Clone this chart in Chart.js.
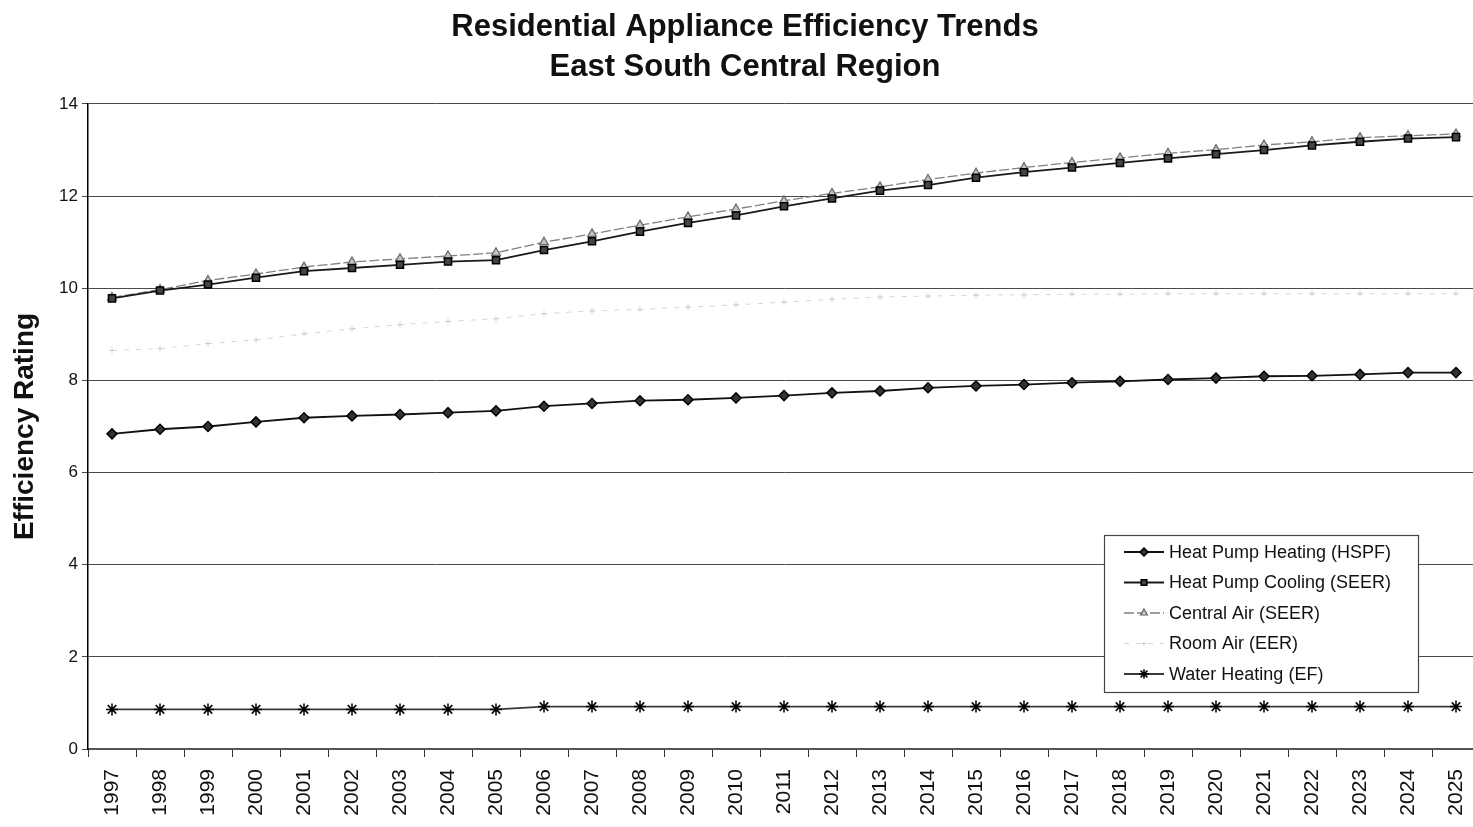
<!DOCTYPE html>
<html>
<head>
<meta charset="utf-8">
<title>Residential Appliance Efficiency Trends</title>
<script src="https://cdn.jsdelivr.net/npm/chart.js@4/dist/chart.umd.min.js"></script>
<style>
  html, body { margin: 0; padding: 0; background: #fff; overflow: hidden; }
  #wrap { width: 1490px; height: 827px; }
</style>
</head>
<body>
<div id="wrap"><canvas id="chart" width="1490" height="827"></canvas></div>
<script>
// Years on the category axis
const years = ['1997','1998','1999','2000','2001','2002','2003','2004','2005','2006',
  '2007','2008','2009','2010','2011','2012','2013','2014','2015','2016',
  '2017','2018','2019','2020','2021','2022','2023','2024','2025'];

// Efficiency ratings per appliance type
const heatPumpHeating = [6.84, 6.94, 7.00, 7.10, 7.19, 7.23, 7.26, 7.30, 7.34, 7.44,
  7.50, 7.56, 7.58, 7.62, 7.67, 7.73, 7.77, 7.84, 7.88, 7.91,
  7.95, 7.98, 8.02, 8.05, 8.09, 8.10, 8.13, 8.17, 8.17];
const heatPumpCooling = [9.78, 9.95, 10.08, 10.23, 10.37, 10.44, 10.51, 10.58, 10.61, 10.83,
  11.02, 11.23, 11.42, 11.58, 11.78, 11.95, 12.12, 12.24, 12.40, 12.52,
  12.62, 12.72, 12.82, 12.91, 13.00, 13.10, 13.18, 13.25, 13.28];
const centralAir = [9.80, 9.97, 10.17, 10.31, 10.46, 10.57, 10.64, 10.70, 10.77, 11.00,
  11.18, 11.37, 11.55, 11.72, 11.90, 12.06, 12.20, 12.36, 12.50, 12.62,
  12.73, 12.83, 12.93, 13.01, 13.11, 13.18, 13.27, 13.31, 13.35];
const roomAir = [8.65, 8.69, 8.80, 8.88, 9.01, 9.12, 9.21, 9.28, 9.34, 9.45,
  9.51, 9.54, 9.59, 9.64, 9.70, 9.76, 9.81, 9.83, 9.85, 9.86,
  9.87, 9.87, 9.88, 9.88, 9.88, 9.88, 9.88, 9.88, 9.88];
const waterHeating = [0.86, 0.86, 0.86, 0.86, 0.86, 0.86, 0.86, 0.86, 0.86, 0.92,
  0.92, 0.92, 0.92, 0.92, 0.92, 0.92, 0.92, 0.92, 0.92, 0.92,
  0.92, 0.92, 0.92, 0.92, 0.92, 0.92, 0.92, 0.92, 0.92];

const yTicks = [0, 2, 4, 6, 8, 10, 12, 14];

const FONT = "'Liberation Sans', Arial, Helvetica, sans-serif";

// Boxed legend drawn inside the plot area, lower right
const boxLegend = {
  id: 'boxLegend',
  afterDraw(chart) {
    const ctx = chart.ctx;
    const box = { left: 1104, top: 535, right: 1418, bottom: 692 };
    const rowH = 30.5;
    ctx.save();
    ctx.fillStyle = '#fff';
    ctx.fillRect(box.left, box.top, box.right - box.left, box.bottom - box.top);
    ctx.strokeStyle = '#444';
    ctx.lineWidth = 1.2;
    ctx.strokeRect(box.left + 0.5, box.top + 0.5, box.right - box.left, box.bottom - box.top);
    ctx.font = '18px ' + FONT;
    ctx.textBaseline = 'middle';
    chart.data.datasets.forEach((ds, i) => {
      const y = box.top + 17 + i * rowH;
      const x0 = box.left + 20, x1 = box.left + 60, xm = (x0 + x1) / 2;
      ctx.save();
      ctx.strokeStyle = ds.borderColor;
      ctx.lineWidth = ds.borderWidth;
      ctx.setLineDash(ds.borderDash || []);
      ctx.beginPath();
      ctx.moveTo(x0, y);
      ctx.lineTo(x1, y);
      ctx.stroke();
      ctx.setLineDash([]);
      ctx.fillStyle = ds.pointBackgroundColor;
      ctx.strokeStyle = ds.pointBorderColor;
      ctx.lineWidth = ds.pointBorderWidth;
      Chart.helpers.drawPoint(ctx, {
        pointStyle: ds.pointStyle,
        radius: ds.pointRadius * 0.8,
        rotation: 0,
        borderWidth: ds.pointBorderWidth
      }, xm, y);
      ctx.restore();
      ctx.fillStyle = '#111';
      ctx.textAlign = 'left';
      ctx.fillText(ds.label, x1 + 5, y + 1);
    });
    ctx.restore();
  }
};

new Chart(document.getElementById('chart'), {
  type: 'line',
  data: {
    labels: years,
    datasets: [
      {
        label: 'Heat Pump Heating (HSPF)',
        data: heatPumpHeating,
        borderColor: '#111',
        borderWidth: 1.8,
        pointStyle: 'rectRot',
        pointRadius: 5,
        pointBackgroundColor: '#333',
        pointBorderColor: '#000',
        pointBorderWidth: 1.5
      },
      {
        label: 'Heat Pump Cooling (SEER)',
        data: heatPumpCooling,
        borderColor: '#1a1a1a',
        borderWidth: 1.8,
        pointStyle: 'rect',
        pointRadius: 5,
        pointBackgroundColor: '#444',
        pointBorderColor: '#000',
        pointBorderWidth: 1.5
      },
      {
        label: 'Central Air (SEER)',
        data: centralAir,
        borderColor: '#808080',
        borderWidth: 1.3,
        borderDash: [10, 3],
        pointStyle: 'triangle',
        pointRadius: 5,
        pointBackgroundColor: '#c4c4c4',
        pointBorderColor: '#666',
        pointBorderWidth: 1.2
      },
      {
        label: 'Room Air (EER)',
        data: roomAir,
        borderColor: '#d6d6d6',
        borderWidth: 1,
        borderDash: [5, 7],
        pointStyle: 'cross',
        pointRadius: 3,
        pointBackgroundColor: '#d0d0d0',
        pointBorderColor: '#cfcfcf',
        pointBorderWidth: 1
      },
      {
        label: 'Water Heating (EF)',
        data: waterHeating,
        borderColor: '#3a3a3a',
        borderWidth: 1.8,
        pointStyle: 'star',
        pointRadius: 6,
        pointBackgroundColor: '#000',
        pointBorderColor: '#000',
        pointBorderWidth: 1.5
      }
    ]
  },
  options: {
    responsive: false,
    devicePixelRatio: 1,
    animation: false,
    events: [],
    layout: { padding: { left: 10, right: 10, top: 0, bottom: 0 } },
    plugins: {
      legend: { display: false },
      tooltip: { enabled: false },
      title: {
        display: true,
        text: ['Residential Appliance Efficiency Trends', 'East South Central Region'],
        color: '#111',
        font: { family: FONT, size: 31, weight: 'bold', lineHeight: 1.29 },
        padding: { top: 7, bottom: 17 }
      }
    },
    scales: {
      x: {
        type: 'category',
        offset: true,
        afterFit(scale) {
          scale.height = 78;
          scale.paddingLeft = 0;
          scale.paddingRight = 0;
        },
        grid: {
          display: true,
          drawOnChartArea: false,
          drawTicks: true,
          tickLength: 8,
          offset: true,
          color: '#333',
          lineWidth: 1
        },
        border: { display: true, color: '#555', width: 2 },
        ticks: {
          color: '#111',
          font: { family: FONT, size: 21 },
          minRotation: 90,
          maxRotation: 90,
          autoSkip: false,
          padding: 12
        }
      },
      y: {
        min: 0,
        max: 14,
        afterFit(scale) { scale.width = 78; },
        afterBuildTicks(scale) { scale.ticks = yTicks.map(v => ({ value: v })); },
        grid: {
          color: '#4a4a4a',
          lineWidth: 1,
          drawTicks: true,
          tickLength: 6
        },
        border: { display: true, color: '#000', width: 1.5 },
        ticks: {
          color: '#111',
          font: { family: FONT, size: 17 },
          padding: 4
        },
        title: {
          display: true,
          text: 'Efficiency Rating',
          color: '#111',
          font: { family: FONT, size: 28, weight: 'bold', lineHeight: 1.1 },
          padding: { top: 0, bottom: 0 }
        }
      }
    }
  },
  plugins: [boxLegend]
});
</script>
</body>
</html>
